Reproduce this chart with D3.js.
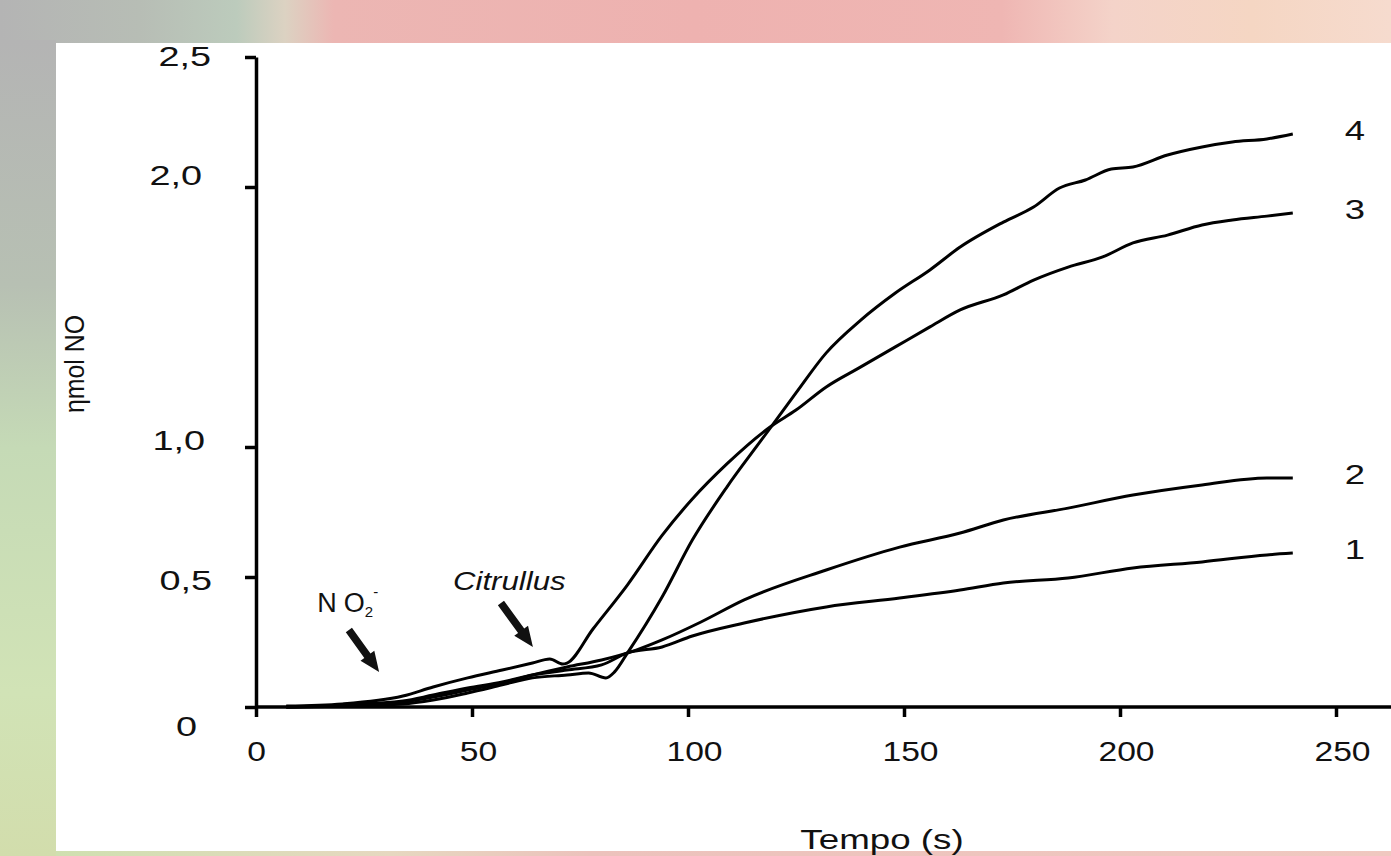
<!DOCTYPE html>
<html>
<head>
<meta charset="utf-8">
<title>ηmol NO</title>
<script src="https://d3js.org/d3.v7.min.js"></script>
<style>
  body { margin: 0; overflow: hidden; }
  svg { display: block; }
</style>
</head>
<body>
<svg id="chart" width="1391" height="856"></svg>
<script>
// time (s) and NO readings (nmol) for each trace
var t1 = [7, 20, 34, 41, 49, 57, 64, 72, 80, 86, 94, 101, 113, 132, 149, 163, 173, 188, 203, 219, 234, 240];
var v1 = [0, 0.008, 0.023, 0.046, 0.073, 0.096, 0.123, 0.142, 0.162, 0.208, 0.231, 0.273, 0.323, 0.385, 0.419, 0.450, 0.477, 0.496, 0.535, 0.558, 0.585, 0.592];

var t2 = [7, 20, 34, 41, 49, 57, 64, 72, 80, 88, 94, 103, 113, 132, 149, 163, 173, 188, 203, 219, 234, 240];
var v2 = [0, 0.004, 0.019, 0.038, 0.065, 0.092, 0.123, 0.154, 0.181, 0.219, 0.258, 0.327, 0.412, 0.527, 0.615, 0.669, 0.719, 0.765, 0.815, 0.854, 0.881, 0.881];

var t3 = [7, 20, 34, 41, 49, 57, 64, 68, 71, 72, 78, 86, 94, 101, 109, 119, 125, 132, 140, 148, 156, 163, 173, 180, 188, 196, 203, 211, 219, 226, 234, 240];
var v3 = [0.004, 0.012, 0.042, 0.077, 0.112, 0.142, 0.169, 0.185, 0.165, 0.169, 0.300, 0.470, 0.660, 0.800, 0.935, 1.077, 1.142, 1.231, 1.308, 1.385, 1.462, 1.527, 1.585, 1.642, 1.692, 1.731, 1.785, 1.815, 1.854, 1.873, 1.888, 1.900];

var t4 = [7, 20, 34, 41, 49, 57, 64, 72, 77, 81, 83, 86, 94, 101, 109, 117, 125, 132, 140, 148, 156, 163, 173, 180, 186, 192, 198, 203, 211, 219, 226, 234, 240];
var v4 = [0, 0.004, 0.012, 0.027, 0.054, 0.085, 0.112, 0.123, 0.131, 0.112, 0.135, 0.208, 0.423, 0.642, 0.846, 1.027, 1.208, 1.362, 1.488, 1.592, 1.681, 1.769, 1.865, 1.923, 1.996, 2.027, 2.069, 2.077, 2.123, 2.154, 2.173, 2.185, 2.204];

var seriesNames = ["1", "2", "3", "4"];
var xTicks = [0, 50, 100, 150, 200, 250];
var yTicks = [0, 0.5, 1, 2, 2.5];

var FONT = "'Liberation Sans', Arial, Helvetica, sans-serif";

var svg = d3.select("#chart");
var W = 1391, H = 856;

// blurred photo backdrop around the white panel
var defs = svg.append("defs");
function grad(id, horiz, stops) {
  var g = defs.append("linearGradient").attr("id", id)
    .attr("x1", 0).attr("y1", 0).attr("x2", horiz ? 1 : 0).attr("y2", horiz ? 0 : 1);
  stops.forEach(function (s) { g.append("stop").attr("offset", s[0]).attr("stop-color", s[1]); });
}
grad("bgTop", true, [[0, "#b4b4b4"], [0.1, "#b7bdb5"], [0.17, "#bccbbc"], [0.205, "#dcd2c2"], [0.24, "#ecb6b3"], [0.5, "#eeb2b0"], [0.72, "#efb6b3"], [0.8, "#f4d3c9"], [0.9, "#f5d6c3"], [1, "#f6dbce"]]);
grad("bgLeft", false, [[0, "#b4b4b4"], [0.3, "#b7c0b3"], [0.5, "#c5dab6"], [0.8, "#d1e3b6"], [1, "#d2ddac"]]);
grad("bgBottom", true, [[0, "#cfe0b0"], [0.25, "#e6d8c0"], [0.4, "#ecc2bc"], [1, "#f0c8c0"]]);

svg.append("rect").attr("width", W).attr("height", H).attr("fill", "url(#bgTop)");
svg.append("rect").attr("y", 40).attr("width", 56).attr("height", H - 40).attr("fill", "url(#bgLeft)");
svg.append("rect").attr("x", 56).attr("y", 850).attr("width", W - 56).attr("height", 6).attr("fill", "url(#bgBottom)");
svg.append("rect").attr("x", 56).attr("y", 43).attr("width", W - 56).attr("height", 808).attr("fill", "#fff");

var x = d3.scaleLinear().domain([0, 250]).range([256, 1336]);
var y = d3.scaleLinear().domain([0, 2.5]).range([707, 57]);

function stretch(sel, k) {
  sel.each(function () {
    var L = this.getComputedTextLength();
    d3.select(this).attr("textLength", L * k).attr("lengthAdjust", "spacingAndGlyphs");
  });
}

// y axis
var yFmt = function (d) { return d === 0 ? "0" : d3.format(".1f")(d).replace(".", ","); };
var gy = svg.append("g")
  .attr("transform", "translate(" + x(0) + ",0)")
  .call(d3.axisLeft(y).tickValues(yTicks).tickSize(11).tickSizeOuter(0).tickFormat(yFmt));
gy.select(".domain").attr("stroke-width", 3.5);
gy.selectAll(".tick line").attr("stroke-width", 3.5);
// labels in the figure sit a little off their ticks
var yNudge = { 0: [-11, 19], 0.5: [4, 3], 1: [-3, -7], 2: [-6, -12], 2.5: [3, -1] };
gy.selectAll(".tick text")
  .attr("font-family", FONT).attr("font-size", 27).attr("fill", "#111")
  .attr("x", function (d) { return -48 + yNudge[d][0]; })
  .attr("y", function (d) { return yNudge[d][1]; })
  .attr("dy", "0.36em")
  .call(stretch, 1.4);

// x axis
var gx = svg.append("g")
  .attr("transform", "translate(0," + y(0) + ")")
  .call(d3.axisBottom(x).tickValues(xTicks).tickSize(10).tickSizeOuter(0));
gx.select(".domain").remove();
gx.append("line").attr("x1", x(0)).attr("x2", W).attr("stroke", "#000").attr("stroke-width", 3.5);
gx.selectAll(".tick line").attr("stroke-width", 3.5);
gx.selectAll(".tick text")
  .attr("font-family", FONT).attr("font-size", 28).attr("fill", "#111")
  .attr("x", function (d) { return d === 0 ? 0 : 6; }).attr("y", 54).attr("dy", 0)
  .call(stretch, 1.2);

// axis titles
svg.append("text")
  .attr("x", 882).attr("y", 849)
  .attr("text-anchor", "middle")
  .attr("font-family", FONT).attr("font-size", 27).attr("fill", "#111")
  .text("Tempo (s)")
  .call(stretch, 1.36);

svg.append("text")
  .attr("transform", "translate(84,364) rotate(-90)")
  .attr("text-anchor", "middle")
  .attr("font-family", FONT).attr("font-size", 27).attr("fill", "#111")
  .text("ηmol NO")
  .call(stretch, 0.92);

// traces
var traces = [d3.zip(t1, v1), d3.zip(t2, v2), d3.zip(t3, v3), d3.zip(t4, v4)];
var line = d3.line()
  .x(function (d) { return x(d[0]); })
  .y(function (d) { return y(d[1]); })
  .curve(d3.curveMonotoneX);

svg.append("g").selectAll("path")
  .data(traces)
  .enter()
  .append("path")
  .attr("d", line)
  .attr("fill", "none")
  .attr("stroke", "#000")
  .attr("stroke-width", 3)
  .attr("stroke-linejoin", "round");

svg.append("g").selectAll("text")
  .data(traces)
  .enter()
  .append("text")
  .attr("x", function (d) { return x(d[d.length - 1][0]) + 62; })
  .attr("y", function (d) { return y(d[d.length - 1][1]) - 4; })
  .attr("dy", "0.36em")
  .attr("text-anchor", "middle")
  .attr("font-family", FONT).attr("font-size", 27).attr("fill", "#111")
  .text(function (d, i) { return seriesNames[i]; })
  .call(stretch, 1.35);

// annotations with arrows
function arrow(t0, a0, t1_, a1) {
  var x0 = x(t0), y0 = y(a0), x1 = x(t1_), y1 = y(a1);
  var dx = x1 - x0, dy = y1 - y0, len = Math.sqrt(dx * dx + dy * dy);
  var ux = dx / len, uy = dy / len, nx = -uy, ny = ux;
  var w = 3.8, hl = 20, hw = 8.5;
  var bx = x1 - ux * hl, by = y1 - uy * hl;
  var pts = [
    [x0 + nx * w, y0 + ny * w], [bx + nx * w, by + ny * w], [bx + nx * hw, by + ny * hw],
    [x1, y1],
    [bx - nx * hw, by - ny * hw], [bx - nx * w, by - ny * w], [x0 - nx * w, y0 - ny * w]
  ];
  svg.append("polygon").attr("points", pts.map(function (p) { return p.join(","); }).join(" ")).attr("fill", "#111");
}

var no2 = svg.append("text")
  .attr("font-family", FONT).attr("font-size", 27).attr("fill", "#111")
  .attr("x", x(14.2)).attr("y", y(0.365));
no2.append("tspan").text("N");
no2.append("tspan").attr("dx", 7).text("O");
no2.append("tspan").attr("font-size", 15).attr("dy", 5).text("2");
no2.append("tspan").attr("font-size", 15).attr("dy", -20).text("-");
arrow(21.5, 0.296, 28.5, 0.135);

svg.append("text")
  .attr("font-family", FONT).attr("font-size", 26).attr("font-style", "italic").attr("fill", "#111")
  .attr("x", x(45.6)).attr("y", y(0.45))
  .text("Citrullus")
  .call(stretch, 1.2);
arrow(56.7, 0.40, 64.1, 0.231);
</script>
</body>
</html>
